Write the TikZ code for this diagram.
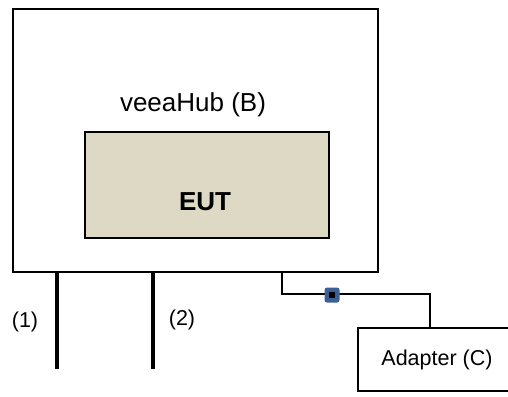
\documentclass[tikz,border=0pt]{standalone}
\usepackage{fontspec}
\setmainfont{Liberation Sans}
\usetikzlibrary{calc,positioning}

\definecolor{eutfill}{RGB}{221,217,196}
\definecolor{ferriteblue}{RGB}{59,96,150}

\begin{document}
\begin{tikzpicture}[x=1pt,y=-1pt,
	box/.style={draw,line width=2pt,inner sep=0pt,anchor=north west},
	bigtxt/.style={font=\fontsize{26}{30}\selectfont},
	smalltxt/.style={font=\fontsize{21.5}{26}\selectfont},
	lead/.style={line width=3.5pt},
	cable/.style={line width=2.5pt}]

\clip (0,0) rectangle (508,396);

% 主机外框与EUT
\node[box,minimum width=365pt,minimum height=263pt] (hub) at (12,8) {};
\node[bigtxt] (hubname) at (193,105) {veeaHub (B)};
\node[box,fill=eutfill,minimum width=244pt,minimum height=106pt] (eut) at (84,131) {};
\node[bigtxt,font=\fontsize{26}{30}\selectfont\bfseries] (euttxt) at (205,202) {EUT};

% 端口(1)(2)
\coordinate (p1) at (57,369);
\coordinate (p2) at (153,369);
\draw[lead] (hub.south -| p1) -- (p1);
\draw[lead] (hub.south -| p2) -- (p2);
\node[smalltxt] (l1) at (25,322) {(1)};
\node[smalltxt] (l2) at (182,320) {(2)};

% 适配器与电缆
\node[box,minimum width=170pt,minimum height=63pt] (adapter) at (357,327) {};
\node[smalltxt] (adtxt) at (437,360) {Adapter (C)};
\coordinate (c1) at (282,294);
\coordinate (c2) at (430,294);
\draw[cable] (hub.south -| c1) -- (c1) -- (c2) -- (c2 |- adapter.north);
\node[fill=ferriteblue,rounded corners=2.5pt,minimum size=15pt,inner sep=0pt] (ferrite) at (332,295) {};
\fill (ferrite.center) ++(-3,-3) rectangle ++(6,6);

\end{tikzpicture}
\end{document}
